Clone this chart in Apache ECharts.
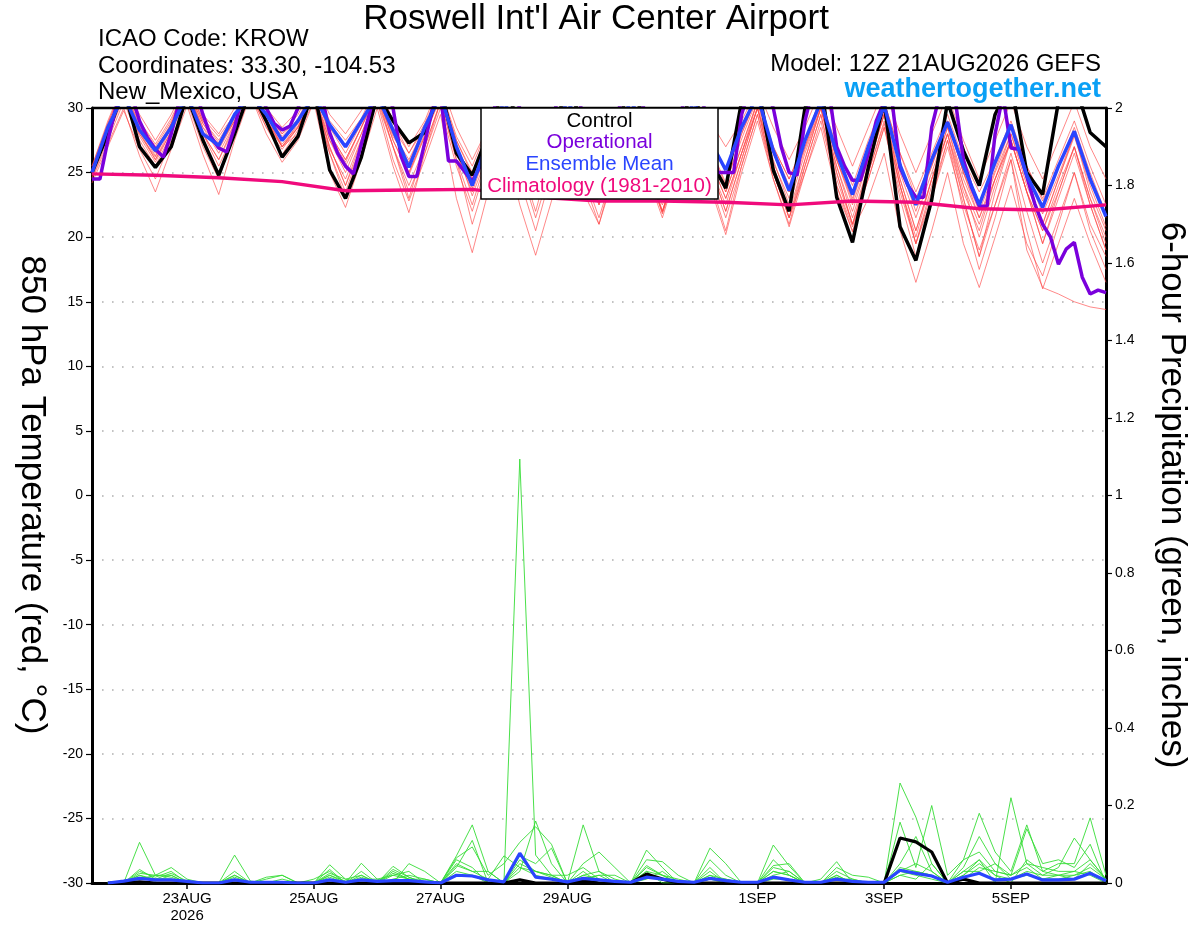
<!DOCTYPE html>
<html lang="en">
<head>
<meta charset="UTF-8">
<title>Roswell Int'l Air Center Airport</title>
<style>
  html, body { margin: 0; padding: 0; background: #fff; }
  #chart { width: 1200px; height: 927px; }
</style>
<script src="https://cdn.jsdelivr.net/npm/echarts@6/dist/echarts.min.js"></script>
</head>
<body>
<div id="chart"></div>
<script>
// time axis: 3-hourly steps from 21AUG2026 12Z to 6SEP2026 12Z
var hours = [];
for (var h = 0; h <= 384; h += 3) hours.push(String(h));

// labelled days (hours after 21AUG 12Z)
var tickHours = [36, 84, 132, 180, 252, 300, 348];
var tickLabels = ['23AUG\n2026', '25AUG', '27AUG', '29AUG', '1SEP', '3SEP', '5SEP'];

// 850 hPa temperature, 6-hourly from 21AUG 12Z
var control = [
  25.0,28.0,31.5,27.0,25.4,27.0,31.0,27.5,
  24.8,28.0,31.5,29.0,26.2,27.8,31.5,25.2,
  23.0,26.2,31.0,29.0,27.3,28.1,31.5,26.5,
  24.8,28.0,31.5,29.0,26.0,28.0,31.5,29.0,
  26.0,28.5,31.5,29.0,26.5,28.5,31.5,26.0,
  23.8,30.5,32.0,25.2,22.0,30.0,32.0,23.1,
  19.6,25.4,30.5,20.8,18.2,22.9,30.5,26.7,
  24.0,29.5,32.0,25.0,23.3,30.5,32.0,28.1,
  27.0];

var ensMean = [
  25.0,28.5,31.0,28.3,26.7,28.5,31.0,28.0,
  27.1,29.5,31.0,29.5,27.5,29.0,31.0,28.7,
  27.0,29.0,31.0,28.3,25.4,28.5,31.0,27.0,
  24.0,27.5,30.5,28.0,26.0,28.0,30.5,28.5,
  26.0,28.0,30.5,28.5,26.0,28.0,30.5,27.5,
  25.2,28.5,31.0,26.7,23.6,27.5,30.5,26.5,
  23.3,27.0,30.2,25.6,22.5,26.0,28.9,25.5,
  22.5,25.8,28.7,24.8,22.3,25.5,28.2,24.5,
  21.6];

// operational run, 3-hourly
var operational = [
  24.5,24.5,27.5,30.0,31.5,31.0,29.0,27.7,
  26.8,26.2,28.0,30.5,32.0,31.5,29.5,27.8,
  26.9,26.6,28.5,31.0,32.0,31.5,30.0,28.8,
  28.3,28.6,30.0,31.5,32.0,31.0,28.1,26.5,
  25.5,24.9,27.2,29.5,32.0,31.5,30.0,26.3,
  24.7,24.7,27.3,30.0,31.0,25.9,25.9,25.1,
  24.3,25.5,28.0,30.5,32.0,31.5,30.0,28.0,
  26.8,27.0,29.0,31.0,32.0,31.5,29.5,27.5,
  26.0,26.3,28.5,31.2,32.0,31.0,29.5,27.8,
  26.4,26.8,29.0,31.0,32.0,30.8,28.0,25.0,
  25.0,25.0,29.5,31.5,32.0,31.5,30.0,27.0,
  25.0,24.8,29.0,31.5,32.0,31.5,27.0,25.5,
  24.4,24.4,26.5,29.0,30.5,30.5,25.4,24.0,
  23.1,23.1,28.5,31.0,31.5,30.5,26.0,23.9,
  22.4,22.4,28.0,31.0,26.9,26.8,24.7,22.6,
  21.0,20.0,17.9,19.1,19.6,16.9,15.6,15.9,
  15.7];

// climatology (1981-2010), daily at 12Z
var climatology = [24.9,24.8,24.6,24.3,23.6,23.65,23.7,23.1,22.8,22.8,22.7,22.5,22.8,22.7,22.2,22.1,22.5];

// ensemble members, 6-hourly
var m1 = [24.5,27.2,30.0,26.3,23.5,26.8,30.2,26.4,23.3,27.5,31.0,28.5,26.4,28.3,31.2,26.8,24.5,27.6,31.0,28.2,25.0,27.8,31.0,26.5,23.8,27.5,30.8,27.8,25.5,28.0,31.0,28.0,25.5,28.0,30.5,27.5,25.0,27.8,30.5,27.0,24.2,27.6,30.8,26.5,23.5,27.0,30.2,26.0,22.8,26.5,29.8,25.5,22.0,25.5,29.0,25.0,22.0,25.2,28.5,25.0,21.8,24.8,28.0,24.5,21.5];
var m2 = [25.2,28.5,31.5,28.8,26.5,28.5,31.5,28.0,26.0,28.8,31.8,29.5,27.0,28.0,30.5,25.0,22.3,26.0,30.0,25.5,21.9,26.5,30.5,27.0,24.5,28.0,31.0,28.0,25.5,28.2,31.0,27.5,24.5,27.8,31.0,27.5,25.0,28.0,31.0,27.0,24.0,28.0,31.0,26.8,24.0,27.5,30.5,26.0,22.5,26.0,29.5,25.0,21.5,25.0,28.5,24.5,21.5,25.0,28.0,24.5,21.0,24.5,27.8,24.0,20.8];
var m3 = [25.0,28.0,31.0,28.0,26.0,28.2,31.2,28.5,26.5,28.8,31.5,29.0,27.0,28.5,31.0,27.0,24.0,27.0,30.5,26.0,22.8,26.0,29.5,23.0,18.8,23.5,27.5,22.5,18.6,22.8,27.0,23.5,21.0,25.0,28.5,25.0,22.5,26.0,29.5,25.5,22.5,26.5,30.0,25.8,23.0,26.8,30.0,25.5,22.0,26.0,29.5,24.5,20.5,24.5,28.0,24.0,21.0,24.5,27.5,23.5,20.5,24.0,27.0,23.0,20.0];
var m4 = [24.8,27.8,30.8,28.0,26.2,28.8,31.5,28.8,27.0,29.0,31.5,29.0,27.2,28.6,31.0,27.5,25.5,28.0,31.0,27.5,24.8,27.8,30.8,26.5,23.5,27.0,30.5,27.0,24.0,27.5,30.5,26.5,23.0,26.8,30.0,25.5,22.0,25.5,29.0,24.0,20.2,25.0,29.0,24.5,20.8,25.0,29.0,24.0,20.4,25.0,29.0,24.0,20.0,24.5,28.0,23.5,20.5,24.5,28.0,24.0,21.0,24.5,28.0,23.5,20.5];
var m5 = [25.0,28.5,31.5,28.5,26.8,28.8,31.5,28.5,27.2,29.0,31.8,29.5,27.5,29.2,31.5,28.0,26.0,28.5,31.2,27.5,25.0,28.0,31.0,27.0,24.0,27.5,31.0,27.5,25.0,28.0,31.0,27.5,24.5,27.5,30.5,26.5,23.5,27.0,30.5,26.0,23.0,26.5,30.0,25.0,21.5,25.0,28.5,23.5,20.5,23.0,26.5,20.5,16.5,20.5,25.0,19.5,16.1,20.0,24.0,19.5,17.0,21.0,25.0,21.0,18.5];
var m6 = [25.5,28.8,31.8,29.0,27.0,29.0,31.8,29.0,27.5,29.5,32.0,29.8,28.0,29.0,31.0,27.8,25.8,28.5,31.0,27.0,24.0,27.0,30.5,26.0,22.5,26.5,30.0,26.5,23.5,27.0,30.5,27.0,24.0,27.5,30.5,26.5,23.5,27.0,30.5,26.0,23.0,26.5,30.5,25.5,22.0,26.0,30.0,25.0,21.0,24.5,28.5,23.5,19.5,23.0,27.0,22.5,19.0,22.5,26.0,19.0,16.1,15.6,15.0,14.6,14.4];
var m7 = [24.2,27.0,29.8,26.8,24.5,27.5,30.5,27.0,24.5,28.0,31.0,28.0,25.8,27.5,30.5,26.5,23.5,27.0,30.5,27.0,23.5,26.5,30.0,25.5,22.0,26.0,30.0,25.5,21.5,25.5,29.5,25.0,21.5,25.5,29.5,25.0,22.0,26.0,30.0,25.5,22.0,26.0,30.0,25.0,21.5,25.5,29.5,24.0,20.8,24.5,28.5,23.0,18.5,23.0,27.5,22.0,17.5,21.5,26.0,20.5,16.0,19.5,23.0,19.5,16.5];
var m8 = [25.5,29.0,32.0,29.5,27.5,29.5,32.0,29.5,28.0,30.0,32.0,30.0,28.5,29.8,32.0,29.5,28.0,29.8,32.0,29.0,27.0,29.0,32.0,28.5,26.0,28.5,31.5,29.0,27.0,29.0,31.5,29.0,27.0,29.0,31.5,29.0,27.0,29.0,31.5,29.0,27.0,29.0,31.5,28.5,26.0,28.5,31.5,28.5,25.5,28.5,31.5,28.0,25.0,28.0,31.0,27.5,24.5,27.5,30.5,27.0,24.5,27.5,30.5,27.0,24.5];
var m9 = [24.8,28.2,31.2,28.2,26.0,28.5,31.5,28.8,27.0,29.2,31.5,29.0,27.5,29.0,31.5,28.5,26.5,28.8,31.5,28.0,25.5,28.2,31.0,27.0,24.5,28.0,31.0,27.8,25.0,28.0,31.0,27.5,24.0,27.5,30.8,27.0,23.5,27.0,30.5,26.5,23.5,27.0,30.5,26.5,23.5,27.0,30.5,26.0,23.0,26.5,29.8,25.5,22.5,25.5,29.0,25.0,22.5,25.5,28.5,25.5,22.8,25.5,28.5,25.0,21.8];
var m10 = [25.0,28.8,31.8,29.0,27.2,29.2,31.8,29.2,27.8,29.5,31.8,29.5,27.8,29.0,31.5,28.0,26.0,28.5,31.5,28.5,26.5,28.8,31.5,27.5,24.8,27.8,31.0,27.0,24.0,27.0,30.5,26.5,22.5,26.5,30.0,26.0,22.0,26.0,30.0,26.5,23.5,27.0,30.5,27.0,24.5,27.5,30.8,26.5,23.5,27.0,30.5,26.5,23.5,26.5,29.5,26.0,23.5,26.0,29.0,25.5,23.0,26.0,29.0,25.5,22.5];
var m11 = [24.6,27.5,30.5,27.5,25.5,28.0,31.0,28.0,26.0,28.5,31.2,28.5,26.8,28.5,31.0,27.5,25.0,28.0,31.0,28.0,26.0,28.5,31.0,26.8,23.2,26.5,30.0,26.0,22.0,26.5,30.0,26.0,22.5,26.8,30.0,25.5,21.9,26.0,29.8,25.0,21.5,25.5,29.5,24.5,21.0,25.5,29.5,24.5,21.0,25.0,28.8,24.0,19.5,23.5,27.5,23.0,18.5,22.5,26.5,22.0,18.0,21.5,25.0,20.5,17.5];
var m12 = [25.3,28.6,31.6,28.6,26.6,28.6,31.6,28.2,26.8,29.0,31.8,29.5,28.0,29.5,31.8,29.0,27.5,29.2,31.8,29.0,26.5,28.5,31.5,27.8,25.5,28.5,31.5,28.5,26.5,28.8,31.5,28.5,26.0,28.5,31.2,28.0,25.5,28.0,31.0,27.5,25.0,28.0,31.0,27.0,24.5,27.5,30.8,27.0,24.0,27.5,30.5,26.5,23.0,26.0,29.0,25.0,21.5,24.5,27.5,23.5,20.5,23.5,27.0,23.0,19.5];
var m13 = [24.9,28.0,31.0,27.8,25.8,28.2,31.2,28.0,25.5,28.2,31.2,28.8,27.0,28.8,31.2,27.0,24.0,27.5,31.0,27.8,25.8,28.5,31.2,27.5,25.0,28.2,31.2,28.0,25.5,28.0,30.8,26.8,23.0,26.5,30.0,25.5,21.8,25.5,29.5,25.5,22.0,26.0,30.0,26.0,22.5,26.5,30.0,25.5,21.5,25.5,29.5,24.5,20.5,24.5,28.5,24.0,20.0,24.0,27.5,23.5,19.5,23.0,26.5,22.5,19.0];
var m14 = [25.1,28.3,31.3,28.3,26.3,28.8,31.8,29.0,27.3,29.3,31.8,29.2,27.0,28.5,31.0,26.5,23.0,27.0,30.8,27.0,23.0,27.0,30.5,26.0,21.0,25.0,29.0,24.5,20.5,25.0,29.0,24.5,21.0,25.5,29.5,25.0,21.5,25.5,29.5,24.5,20.5,25.5,29.5,25.0,21.5,26.0,30.0,25.0,21.0,25.5,29.5,24.0,19.5,24.0,28.0,23.0,18.5,23.5,27.5,23.5,19.5,23.5,27.0,22.5,19.0];
var members = [m1, m2, m3, m4, m5, m6, m7, m8, m9, m10, m11, m12, m13, m14];

// 6-hour precipitation (inches), 6-hourly from 21AUG 18Z
var g1 = [0,0,0.105,0.02,0.04,0.01,0,0, 0.072,0.005,0,0,0,0,0.047,0.01, 0,0,0.043,0.015,0,0,0.07,0.15, 0.03,0,1.094,0.072,0.02,0,0.03,0, 0,0,0.085,0.04,0,0,0.04,0, 0,0,0.06,0.02,0,0.01,0.055,0, 0,0,0.258,0.17,0.05,0,0.03,0.06, 0,0.22,0.05,0.02,0.04,0.116,0.06,0.01];
var g2 = [0,0,0.03,0.015,0.03,0,0,0, 0.03,0,0.015,0.02,0,0,0.035,0, 0.051,0.01,0,0.05,0.03,0,0.065,0.093, 0.02,0.05,0.105,0.145,0.1,0,0.15,0.03, 0.01,0,0.06,0.055,0.02,0,0.09,0.05, 0,0,0.098,0.044,0,0,0.04,0.02, 0.015,0,0.157,0.04,0.2,0.02,0.06,0.18, 0.08,0.03,0.15,0.03,0.05,0.05,0.168,0.02];
var g3 = [0,0,0.025,0.02,0.02,0,0,0, 0.02,0,0,0,0,0.01,0.03,0, 0.03,0,0.035,0.015,0,0,0.06,0.04, 0,0,0.07,0.05,0.09,0,0.05,0.08, 0.04,0,0.045,0.02,0,0,0.06,0.02, 0,0,0.045,0.05,0,0,0.02,0, 0,0,0.05,0.12,0.03,0,0.04,0.12, 0.05,0.02,0.14,0.05,0.06,0.04,0.1,0];
var g4 = [0,0,0.02,0.01,0.025,0.005,0,0, 0.015,0,0.01,0.02,0,0,0.025,0.01, 0.02,0,0.03,0.01,0.01,0,0.045,0.03, 0.01,0.07,0.04,0.03,0.02,0,0.02,0.03, 0,0,0.03,0.02,0.01,0,0.03,0, 0,0,0.03,0.02,0,0,0.01,0.01, 0,0,0.04,0.03,0.02,0,0.06,0.08, 0.03,0.02,0.05,0.04,0.03,0.03,0.06,0.01];
var g5 = [0,0,0.01,0.02,0.015,0,0,0, 0,0,0,0,0,0,0.02,0.005, 0.01,0,0.02,0.01,0,0,0.04,0.11, 0,0,0.05,0.03,0.015,0,0.02,0.01, 0,0,0.02,0.01,0,0,0.02,0.01, 0,0,0.02,0.03,0,0,0.01,0, 0,0,0.03,0.02,0.01,0,0.02,0.06, 0.02,0.01,0.03,0.02,0.02,0.02,0.03,0];
var g6 = [0,0,0.035,0.01,0.01,0,0,0, 0.02,0,0,0,0,0,0.01,0, 0.015,0,0.01,0.02,0.01,0,0.03,0.02, 0,0,0.03,0.16,0.05,0,0.01,0.02, 0.02,0,0.01,0.03,0,0,0.01,0, 0,0,0.01,0.01,0,0,0.03,0.01, 0,0,0.03,0.05,0.03,0,0.03,0.03, 0.05,0.01,0.02,0.01,0.02,0.03,0.02,0];
var g7 = [0,0,0.015,0.01,0.01,0,0,0, 0.01,0,0,0,0,0,0.015,0, 0.01,0.01,0.02,0.03,0,0,0.02,0.02, 0.01,0,0.04,0.02,0.01,0,0.01,0.02, 0,0,0.03,0,0,0,0.01,0.01, 0,0,0.03,0.02,0,0,0.015,0, 0,0,0.02,0.03,0.02,0,0.01,0.04, 0.03,0.02,0.04,0.01,0.01,0.02,0.04,0.01];
var g8 = [0,0,0.02,0.005,0.02,0,0,0, 0.01,0,0,0.01,0,0,0.02,0, 0.02,0,0.025,0.01,0,0,0.05,0.03, 0.03,0,0.06,0.03,0.02,0.02,0.04,0.01, 0,0,0.04,0.02,0,0,0.02,0, 0,0,0.04,0.03,0,0,0.02,0, 0,0,0.02,0.01,0.05,0,0.02,0.05, 0.02,0,0.06,0.03,0.02,0.01,0.05,0.01];
var precipMembers = [g1, g2, g3, g4, g5, g6, g7, g8];

var precipMean = [0,0.005,0.012,0.008,0.008,0.004,0,0, 0.008,0.002,0.002,0.002,0,0,0.008,0.002, 0.008,0.004,0.006,0.006,0.003,0,0.02,0.018, 0.008,0.003,0.077,0.015,0.01,0.003,0.012,0.008, 0.004,0.002,0.015,0.01,0.004,0.002,0.012,0.006, 0.002,0.002,0.015,0.008,0.002,0.002,0.01,0.004, 0.002,0.002,0.033,0.025,0.018,0.002,0.015,0.025, 0.008,0.01,0.023,0.008,0.008,0.01,0.025,0.006];
var precipControl = [0,0,0.003,0,0,0,0,0, 0,0,0,0,0,0,0,0, 0,0,0,0,0,0,0,0, 0,0,0.008,0,0,0,0.006,0, 0,0,0.023,0.01,0,0,0,0, 0,0,0,0,0,0,0,0, 0,0,0.116,0.106,0.08,0,0.01,0, 0,0,0,0,0,0,0,0];

var FONT = '"Liberation Sans", Arial, Helvetica, sans-serif';

// 6-hourly values -> [3-hourly category index, value]
function sixHourly(arr, offset) {
  return arr.map(function (v, i) { return [(i + offset) * 2, v]; });
}
function line(name, data, color, width, yIndex) {
  return {
    name: name, type: 'line', data: data, yAxisIndex: yIndex || 0,
    symbol: 'none', smooth: false, silent: true,
    lineStyle: { color: color, width: width }
  };
}
function isTick(index) { return tickHours.indexOf(index * 3) >= 0; }
function label(text, x, y, size, color, align, extra) {
  var st = { text: text, fontSize: size, fontFamily: FONT, fill: color, textAlign: align, textVerticalAlign: 'middle' };
  if (extra) for (var k in extra) st[k] = extra[k];
  return { type: 'text', x: x, y: y, z: 100, style: st };
}

var series = [];
members.forEach(function (m, k) {
  series.push(line('member' + k, sixHourly(m, 0), 'rgba(255,70,70,0.8)', 0.8));
});
precipMembers.forEach(function (g, k) {
  series.push(line('precip' + k, sixHourly(g, 1), '#36dc36', 0.9, 1));
});
series.push(line('Control precip', sixHourly(precipControl, 1), '#000', 3.2, 1));
series.push(line('Mean precip', sixHourly(precipMean, 1), '#2a45ff', 3.2, 1));
series.push(line('Control', sixHourly(control, 0), '#000', 3.5));
series.push(line('Operational', operational.map(function (v, j) { return [j, v]; }), '#7a00dc', 3.5));
series.push(line('Ensemble Mean', sixHourly(ensMean, 0), '#2a45ff', 3.5));
series.push(line('Climatology', climatology.map(function (v, i) { return [i * 8, v]; }), '#f00a7c', 3.5));

var chart = echarts.init(document.getElementById('chart'), null, { renderer: 'canvas' });
chart.setOption({
  animation: false,
  backgroundColor: '#fff',
  textStyle: { fontFamily: FONT },
  grid: { left: 92, right: 94, top: 108, bottom: 44 },
  xAxis: {
    type: 'category', data: hours, boundaryGap: false,
    axisLine: { onZero: false, lineStyle: { color: '#000', width: 3 } },
    axisTick: { interval: isTick, length: 6, lineStyle: { color: '#000', width: 1.5 } },
    axisLabel: {
      interval: isTick, color: '#000', fontSize: 15, fontFamily: FONT, margin: 7, lineHeight: 17,
      formatter: function (v) { var k = tickHours.indexOf(Number(v)); return k >= 0 ? tickLabels[k] : ''; }
    },
    splitLine: { show: false }
  },
  yAxis: [{
    type: 'value', position: 'left', min: -30, max: 30, interval: 5,
    axisLine: { show: true, onZero: false, lineStyle: { color: '#000', width: 3 } },
    axisTick: { show: true, length: 6, lineStyle: { color: '#000', width: 1.2 } },
    axisLabel: { color: '#000', fontSize: 14, fontFamily: FONT, margin: 9 },
    splitLine: { show: true, showMinLine: false, showMaxLine: false,
      lineStyle: { color: '#b0b0b0', width: 1.6, type: [1.6, 8.4] } }
  }, {
    type: 'value', position: 'right', min: 0, max: 2, interval: 0.2,
    axisLine: { show: true, onZero: false, lineStyle: { color: '#000', width: 3 } },
    axisTick: { show: true, length: 6, lineStyle: { color: '#000', width: 1.2 } },
    axisLabel: { color: '#000', fontSize: 14, fontFamily: FONT, margin: 9,
      formatter: function (v) { return String(parseFloat(v.toFixed(1))); } },
    splitLine: { show: false }
  }],
  graphic: [
    label("Roswell Int'l Air Center Airport", 596, 19, 35, '#000', 'center'),
    label('ICAO Code: KROW', 98, 39, 24, '#000', 'left'),
    label('Coordinates: 33.30, -104.53', 98, 66, 24, '#000', 'left'),
    label('New_Mexico, USA', 98, 92, 24, '#000', 'left'),
    label('Model: 12Z 21AUG2026 GEFS', 1101, 64, 24, '#000', 'right'),
    label('weathertogether.net', 1101, 90, 27, '#0aa0f5', 'right', { fontWeight: 'bold' }),
    { type: 'text', x: 32, y: 495, rotation: -Math.PI / 2, z: 100,
      style: { text: '850 hPa Temperature (red, °C)', fontSize: 35, fontFamily: FONT, fill: '#000', textAlign: 'center', textVerticalAlign: 'middle' } },
    { type: 'text', x: 1172, y: 495, rotation: -Math.PI / 2, z: 100,
      style: { text: '6-hour Precipitation (green, inches)', fontSize: 35, fontFamily: FONT, fill: '#000', textAlign: 'center', textVerticalAlign: 'middle' } },
    // top border of the plot
    { type: 'line', z: 90, shape: { x1: 92, y1: 108, x2: 1106, y2: 108 }, style: { stroke: '#000', lineWidth: 2.5 } },
    // legend box
    { type: 'rect', z: 100, shape: { x: 481, y: 108, width: 237, height: 91 }, style: { fill: '#fff', stroke: '#000', lineWidth: 1.5 } },
    label('Control', 599.5, 121, 20.5, '#000', 'center'),
    label('Operational', 599.5, 142, 20.5, '#7a00dc', 'center'),
    label('Ensemble Mean', 599.5, 164, 20.5, '#2a45ff', 'center'),
    label('Climatology (1981-2010)', 599.5, 186, 20.5, '#f00a7c', 'center')
  ],
  series: series
});
</script>
</body>
</html>
